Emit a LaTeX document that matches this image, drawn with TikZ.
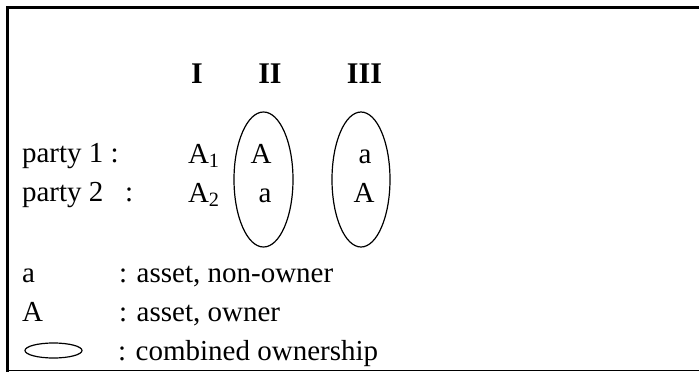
\documentclass[tikz,border=0pt]{standalone}
\usepackage{fontspec}
\setmainfont{Liberation Serif}
\usetikzlibrary{shapes.geometric}
\begin{document}
\begin{tikzpicture}[x=1pt,y=-1pt,
  txt/.style={inner sep=0pt,outer sep=0pt,font=\fontsize{29}{34}\selectfont},
  head/.style={inner sep=0pt,outer sep=0pt,anchor=base,font=\fontsize{30}{34}\selectfont\bfseries},
  oval/.style={draw,ellipse,inner sep=0pt,line width=1.2pt},
  frame/.style={line width=3pt}]
\useasboundingbox (0,0) rectangle (699,372);
% frame
\coordinate (tl) at (6,7.5);
\coordinate (tr) at (699,7.5);
\coordinate (lt) at (7.5,6);
\coordinate (lb) at (7.5,372);
\coordinate (bl) at (6,370.5);
\coordinate (br) at (699,370.5);
\draw[frame] (tl) -- (tr);
\draw[frame] (lt) -- (lb);
\draw[line width=1.5pt] (bl) -- (br);
% headings
\node[head] (h1) at (197,83) {I};
\node[head] (h2) at (270,83) {II};
\node[head] (h3) at (364.5,83) {III};
% rows
\node[txt,anchor=base west] (p1) at (22,162) {party 1 :};
\node[txt,anchor=base west] (p2) at (22,201) {party 2 \,\,\,:};
\node[txt,anchor=base west] (a1) at (188,163) {A\textsubscript{1}};
\node[txt,anchor=base west] (a2) at (188,202) {A\textsubscript{2}};
% ellipses
\node[oval,minimum width=59,minimum height=135] (e2) at (263.5,179.5) {};
\node[oval,minimum width=58,minimum height=135] (e3) at (361,179.5) {};
\node[txt,anchor=base] (e2a) at (261,163) {A};
\node[txt,anchor=base] (e2b) at (265,202) {a};
\node[txt,anchor=base] (e3a) at (365,163) {a};
\node[txt,anchor=base] (e3b) at (364,202) {A};
% legend
\node[txt,anchor=base west] (la) at (22,282) {a};
\node[txt,anchor=base west] (lA) at (22,321) {A};
\node[oval,minimum width=57,minimum height=15] (le) at (53.5,350.5) {};
\node[txt,anchor=base west] (ta) at (119,282) {: asset, non-owner};
\node[txt,anchor=base west] (tA) at (119,321) {: asset, owner};
\node[txt,anchor=base west] (te) at (118,360) {: combined ownership};
\end{tikzpicture}
\end{document}
